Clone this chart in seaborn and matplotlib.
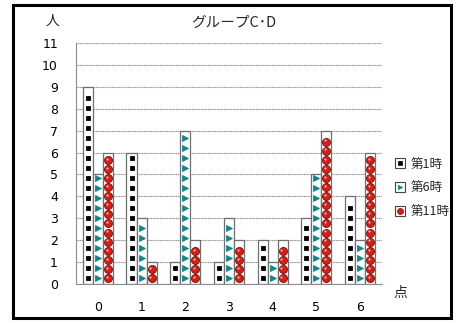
import numpy as np
import pandas as pd
import matplotlib
matplotlib.use("Agg")
import matplotlib.pyplot as plt
import seaborn as sns
from matplotlib.patches import Rectangle
from matplotlib.lines import Line2D
from matplotlib.legend_handler import HandlerTuple

# score categories and number of people per session
scores = ["0", "1", "2", "3", "4", "5", "6"]
session_names = ["第1時", "第6時", "第11時"]
first = [9, 6, 1, 1, 2, 3, 4]
sixth = [5, 3, 7, 3, 1, 5, 2]
eleventh = [6, 1, 2, 2, 2, 7, 6]
yticks = list(range(0, 12))

df = pd.DataFrame({
    "score": scores * 3,
    "session": np.repeat(session_names, len(scores)),
    "count": first + sixth + eleventh,
})

sns.set_theme(style="white")
plt.rcParams["font.family"] = ["Noto Sans CJK JP", "DejaVu Sans"]

fig = plt.figure(figsize=(4.62, 3.23), dpi=100)
ax = fig.add_axes([0.1645, 0.1207, 0.6623, 0.7462])

sns.barplot(data=df, x="score", y="count", hue="session", hue_order=session_names,
            order=scores, width=0.69, gap=0, palette=["white"] * 3,
            edgecolor="#6f6f6f", linewidth=0.9, legend=False, ax=ax, zorder=2)

ax.set_ylim(0, 11)
ax.set_yticks(yticks)
ax.set_xlim(-0.5, len(scores) - 0.5)
ax.yaxis.grid(True, color="#8c8c8c", linestyle=(0, (1, 0.6)), linewidth=0.8)
ax.set_axisbelow(True)
for s in ["top", "right"]:
    ax.spines[s].set_visible(False)
ax.spines["left"].set_color("#8c8c8c")
ax.spines["bottom"].set_color("#8c8c8c")
ax.spines["left"].set_linewidth(0.8)
ax.spines["bottom"].set_linewidth(0.8)
ax.tick_params(axis="y", length=0, pad=13, colors="black")
ax.tick_params(axis="x", length=0, pad=12, colors="black")
for lab in ax.get_yticklabels() + ax.get_xticklabels():
    lab.set_fontfamily("DejaVu Sans")
    lab.set_fontsize(9)
ax.set_xlabel("")
ax.set_ylabel("")

# pattern fills drawn inside each bar
px_per_unit = ax.transData.transform((0, 1))[1] - ax.transData.transform((0, 0))[1]
styles = [
    dict(marker="s", ms=3.2, mfc="black", mec="black", step_px=10.0),
    dict(marker=">", ms=4.2, mfc="#14868a", mec="#14868a", step_px=10.0),
    dict(marker="o", ms=5.8, mfc="#d0201a", mec="#7a0d08", step_px=9.1),
]
bars = [p for p in ax.patches if isinstance(p, Rectangle)]
n = len(scores)
for i, bar in enumerate(bars[: 3 * n]):
    st = styles[i // n]
    h = bar.get_height()
    if h <= 0:
        continue
    xc = bar.get_x() + bar.get_width() / 2
    step = st["step_px"] / px_per_unit
    start = 6.0 / px_per_unit
    ys = np.arange(start, h - 2.5 / px_per_unit, step)
    ax.plot([xc] * len(ys), ys, linestyle="none", marker=st["marker"],
            ms=st["ms"], mfc=st["mfc"], mec=st["mec"], mew=0.6, zorder=3)
    if st["marker"] == "o":
        ax.plot([xc - 0.03] * len(ys), ys + 1.2 / px_per_unit, linestyle="none",
                marker="o", ms=1.6, mfc="#ffb0a8", mec="none", zorder=4)

# legend
handles = []
for st in styles:
    box = Line2D([], [], linestyle="none", marker="s", ms=7, mfc="white", mec="#444444", mew=0.8)
    mk = Line2D([], [], linestyle="none", marker=st["marker"], ms=st["ms"] * 0.75,
                mfc=st["mfc"], mec=st["mec"], mew=0.5)
    handles.append((box, mk))
fig.legend(handles, session_names, handler_map={tuple: HandlerTuple(ndivide=1)},
           loc="upper left", bbox_to_anchor=(0.845, 0.527), frameon=False,
           fontsize=9, handlelength=0.8, handletextpad=0.4, labelspacing=0.85,
           borderaxespad=0)

fig.text(0.505, 0.93, "グループC･D", ha="center", va="center", fontsize=10.5)
fig.text(0.113, 0.935, "人", ha="center", va="center", fontsize=10)
fig.text(0.866, 0.093, "点", ha="center", va="center", fontsize=10)

# outer frame
fig.add_artist(Rectangle((13 / 462, 1 - 318 / 323), (451 - 13) / 462, (318 - 5) / 323,
                         transform=fig.transFigure, fill=False, edgecolor="black",
                         linewidth=2.2))

fig.savefig("out.png", dpi=100, facecolor="white")
